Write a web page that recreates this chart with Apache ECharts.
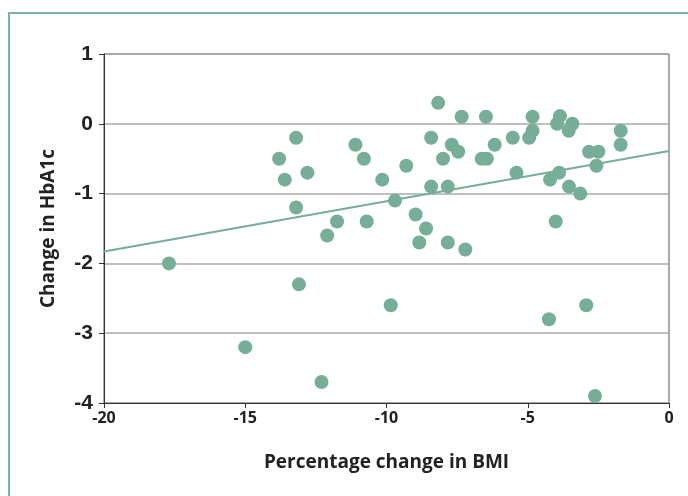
<!DOCTYPE html>
<html><head><meta charset="utf-8">
<script src="https://cdn.jsdelivr.net/npm/echarts@6/dist/echarts.min.js"></script>
<style>html,body{margin:0;padding:0;background:#fff}#c{width:688px;height:496px}</style>
</head><body><div id="c"></div>
<script>
var bmiChange = [-17.7,-15.0,-13.8,-13.6,-13.2,-13.2,-13.1,-12.8,-12.3,-12.1,-11.75,-11.1,-10.8,-10.7,-10.15,-9.85,-9.7,-9.3,-8.97,-8.84,-8.6,-8.42,-8.42,-8.17,-8.0,-7.83,-7.83,-7.69,-7.46,-7.34,-7.21,-6.63,-6.45,-6.48,-6.17,-5.53,-5.4,-4.95,-4.83,-4.83,-4.25,-4.21,-4.01,-3.96,-3.89,-3.86,-3.55,-3.54,-3.42,-3.14,-2.93,-2.83,-2.62,-2.57,-2.5,-1.71,-1.71];
var hba1cChange = [-2.0,-3.2,-0.5,-0.8,-0.2,-1.2,-2.3,-0.7,-3.7,-1.6,-1.4,-0.3,-0.5,-1.4,-0.8,-2.6,-1.1,-0.6,-1.3,-1.7,-1.5,-0.2,-0.9,0.3,-0.5,-0.9,-1.7,-0.3,-0.4,0.1,-1.8,-0.5,-0.5,0.1,-0.3,-0.2,-0.7,-0.2,-0.1,0.1,-2.8,-0.8,-1.4,0.0,-0.7,0.11,-0.1,-0.9,0.0,-1.0,-2.6,-0.4,-3.9,-0.6,-0.4,-0.1,-0.3];
var trendX = [-20, 0];
var trendY = [-1.83, -0.39];
var xTicks = [-20,-15,-10,-5,0];
var yTicks = [1,0,-1,-2,-3,-4];

var pts = bmiChange.map(function(x,i){return [x, hba1cChange[i]];});
var trend = trendX.map(function(x,i){return [x, trendY[i]];});
var green = '#76ae97';
var chart = echarts.init(document.getElementById('c'), null, {renderer:'canvas'});
chart.setOption({
  animation:false,
  graphic:[{type:'rect', shape:{x:9, y:13, width:700, height:500}, style:{fill:'none', stroke:'#7ab5a0', lineWidth:2}, z:-1}],
  grid:{left:104, right:19, top:54, bottom:93, show:true, borderColor:'#555', borderWidth:1, backgroundColor:'transparent'},
  xAxis:{type:'value', min:-20, max:0, interval:5,
    name:'Percentage change in BMI', nameLocation:'middle', nameGap:50,
    nameTextStyle:{fontFamily:'Open Sans', fontWeight:'bold', fontSize:19, color:'#222'},
    axisLine:{onZero:false, lineStyle:{color:'#333', width:1}},
    axisTick:{show:true, length:5, lineStyle:{color:'#333'}},
    axisLabel:{fontFamily:'Open Sans', fontWeight:'bold', fontSize:16, color:'#222', margin:7,
      formatter:function(v){return xTicks.indexOf(v)>=0 ? String(v) : '';}},
    splitLine:{show:false}},
  yAxis:{type:'value', min:-4, max:1, interval:1,
    name:'Change in HbA1c', nameLocation:'middle', nameGap:46,
    nameTextStyle:{fontFamily:'Open Sans', fontWeight:'bold', fontSize:19, color:'#222'},
    axisLine:{show:true, onZero:false, lineStyle:{color:'#333', width:1}},
    axisTick:{show:true, length:5, lineStyle:{color:'#333'}},
    axisLabel:{fontFamily:'Liberation Sans', fontWeight:'bold', fontSize:21, color:'#222', margin:11,
      formatter:function(v){return yTicks.indexOf(v)>=0 ? String(v) : '';}},
    splitLine:{show:true, lineStyle:{color:'#aaaaaa', width:1.5}}},
  series:[
    {type:'line', data:trend, showSymbol:false, lineStyle:{color:green, width:2}, z:1},
    {type:'scatter', data:pts, symbolSize:14, itemStyle:{color:green, opacity:1}, z:2}
  ]
});
</script></body></html>
